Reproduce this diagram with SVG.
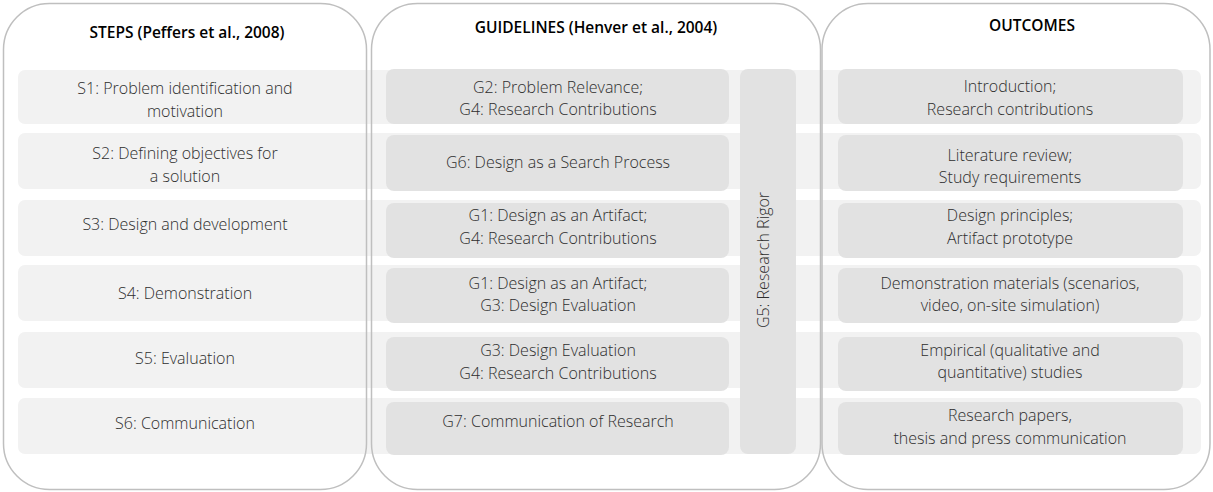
<svg xmlns="http://www.w3.org/2000/svg" width="1213" height="492" viewBox="0 0 1213 492">
<style>
.band{fill:#f2f2f2}
.box{fill:#e2e2e2}
.panel{fill:none;stroke:#bfbfbf;stroke-width:1.5}
.t{font-family:"Open Sans","Liberation Sans",sans-serif;font-size:16px;font-weight:300;fill:#2e2e2e;text-anchor:middle}
.h{font-family:"Open Sans","Liberation Sans",sans-serif;font-size:15.5px;font-weight:600;fill:#000;text-anchor:middle}
</style>
<rect width="1213" height="492" fill="#fff"/>
<g id="bands">
<rect class="band" x="18" y="70" width="1183" height="54" rx="7"/>
<rect class="band" x="18" y="133" width="1183" height="56" rx="7"/>
<rect class="band" x="18" y="200" width="1183" height="56" rx="7"/>
<rect class="band" x="18" y="265" width="1183" height="56" rx="7"/>
<rect class="band" x="18" y="332" width="1183" height="56" rx="7"/>
<rect class="band" x="18" y="398" width="1183" height="56" rx="7"/>
</g>
<g id="panel-steps">
<rect class="panel" x="3.5" y="3.5" width="363" height="486" rx="46"/>
<text class="h" x="187" y="38">STEPS (Peffers et al., 2008)</text>
</g>
<g id="panel-guidelines">
<rect class="panel" x="371.5" y="3.5" width="449" height="486" rx="46"/>
<text class="h" x="596" y="33">GUIDELINES (Henver et al., 2004)</text>
</g>
<g id="panel-outcomes">
<rect class="panel" x="822" y="3.5" width="388" height="486" rx="46"/>
<text class="h" x="1032" y="31">OUTCOMES</text>
</g>
<g id="s1"><text class="t" x="185" y="94">S1: Problem identification and</text><text class="t" x="185" y="117">motivation</text></g>
<g id="s2"><text class="t" x="185" y="159">S2: Defining objectives for</text><text class="t" x="185" y="182">a solution</text></g>
<g id="s3"><text class="t" x="185" y="230">S3: Design and development</text></g>
<g id="s4"><text class="t" x="185" y="299">S4: Demonstration</text></g>
<g id="s5"><text class="t" x="185" y="364">S5: Evaluation</text></g>
<g id="s6"><text class="t" x="185" y="429">S6: Communication</text></g>
<g id="g-row1"><rect class="box" x="386" y="69" width="343" height="55" rx="8"/><text class="t" x="558" y="93">G2: Problem Relevance;</text><text class="t" x="558" y="115">G4: Research Contributions</text></g>
<g id="g-row2"><rect class="box" x="386" y="135" width="343" height="56" rx="8"/><text class="t" x="558" y="168">G6: Design as a Search Process</text></g>
<g id="g-row3"><rect class="box" x="386" y="203" width="343" height="55" rx="8"/><text class="t" x="558" y="221">G1: Design as an Artifact;</text><text class="t" x="558" y="244">G4: Research Contributions</text></g>
<g id="g-row4"><rect class="box" x="386" y="268" width="343" height="55" rx="8"/><text class="t" x="558" y="289">G1: Design as an Artifact;</text><text class="t" x="558" y="311">G3: Design Evaluation</text></g>
<g id="g-row5"><rect class="box" x="386" y="337" width="343" height="54" rx="8"/><text class="t" x="558" y="356">G3: Design Evaluation</text><text class="t" x="558" y="379">G4: Research Contributions</text></g>
<g id="g-row6"><rect class="box" x="386" y="402" width="343" height="53" rx="8"/><text class="t" x="558" y="427">G7: Communication of Research</text></g>
<g id="g5"><rect class="box" x="740" y="69" width="56" height="385" rx="8"/><text class="t" transform="translate(769 260) rotate(-90)">G5: Research Rigor</text></g>
<g id="o-row1"><rect class="box" x="838" y="69" width="345" height="55" rx="8"/><text class="t" x="1010" y="92">Introduction;</text><text class="t" x="1010" y="115">Research contributions</text></g>
<g id="o-row2"><rect class="box" x="838" y="135" width="345" height="56" rx="8"/><text class="t" x="1010" y="161">Literature review;</text><text class="t" x="1010" y="183">Study requirements</text></g>
<g id="o-row3"><rect class="box" x="838" y="203" width="345" height="55" rx="8"/><text class="t" x="1010" y="221">Design principles;</text><text class="t" x="1010" y="244">Artifact prototype</text></g>
<g id="o-row4"><rect class="box" x="838" y="268" width="345" height="55" rx="8"/><text class="t" x="1010" y="289">Demonstration materials (scenarios,</text><text class="t" x="1010" y="311">video, on-site simulation)</text></g>
<g id="o-row5"><rect class="box" x="838" y="337" width="345" height="54" rx="8"/><text class="t" x="1010" y="356">Empirical (qualitative and</text><text class="t" x="1010" y="378">quantitative) studies</text></g>
<g id="o-row6"><rect class="box" x="838" y="402" width="345" height="53" rx="8"/><text class="t" x="1010" y="421">Research papers,</text><text class="t" x="1010" y="444">thesis and press communication</text></g>
</svg>
